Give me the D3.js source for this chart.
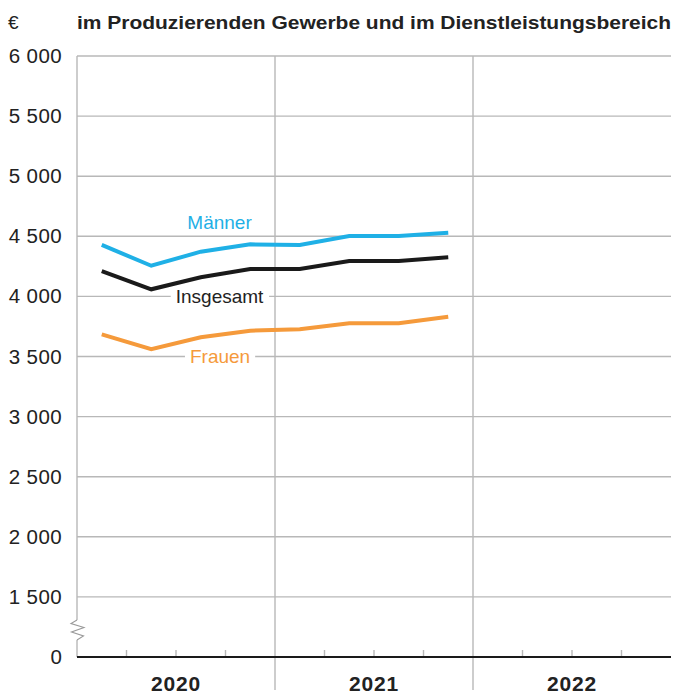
<!DOCTYPE html>
<html><head><meta charset="utf-8">
<script src="https://cdn.jsdelivr.net/npm/d3@7"></script>
<style>
html,body{margin:0;padding:0;background:#fff;}
svg{display:block;font-family:"Liberation Sans",Arial,sans-serif;}
</style></head>
<body>
<svg id="chart" width="675" height="696"></svg>
<script>
const title = "im Produzierenden Gewerbe und im Dienstleistungsbereich";
const unit = "€";
const years = ["2020", "2021", "2022"];
const quarters = ["2020 Q1","2020 Q2","2020 Q3","2020 Q4","2021 Q1","2021 Q2","2021 Q3","2021 Q4"];
const maenner = [4428, 4255, 4372, 4433, 4428, 4502, 4502, 4530];
const insgesamt = [4211, 4059, 4159, 4228, 4228, 4295, 4295, 4325];
const frauen = [3684, 3560, 3660, 3715, 3726, 3776, 3776, 3831];
const yTicks = [1500, 2000, 2500, 3000, 3500, 4000, 4500, 5000, 5500, 6000];
const seriesNames = ["Männer", "Insgesamt", "Frauen"];

(function () {
const svg = d3.select("#chart");
const mLeft = 77, mRight = 671, mTop = 56, mBottom = 657;
const x = d3.scaleLinear().domain([0, 12]).range([mLeft, mRight]);
const y = d3.scaleLinear().domain([1000, 6000]).range([mBottom, mTop]);
const fmtLbl = v => d3.format(",")(v).replace(",", " ");

const grid = "#b8b8b8";
svg.append("g").selectAll("line").data(yTicks).join("line")
  .attr("x1", mLeft).attr("x2", mRight)
  .attr("y1", d => y(d)).attr("y2", d => y(d))
  .attr("stroke", grid).attr("stroke-width", 1.4);
svg.append("g").selectAll("line").data([4, 8]).join("line")
  .attr("x1", d => x(d)).attr("x2", d => x(d))
  .attr("y1", mTop).attr("y2", 690)
  .attr("stroke", grid).attr("stroke-width", 1.4);
const brkTop = 620, brkBot = 640;
svg.append("line").attr("x1", mLeft).attr("x2", mLeft).attr("y1", mTop).attr("y2", brkTop)
  .attr("stroke", grid).attr("stroke-width", 1.4);
svg.append("line").attr("x1", mLeft).attr("x2", mLeft).attr("y1", brkBot).attr("y2", mBottom)
  .attr("stroke", grid).attr("stroke-width", 1.4);
svg.append("path")
  .attr("d", `M${mLeft},${brkTop} L${mLeft-6},${brkTop+3.5} L${mLeft+7},${brkTop+7.5} L${mLeft-5.5},${brkTop+12} L${mLeft+6.5},${brkTop+16} L${mLeft},${brkBot}`)
  .attr("fill", "none").attr("stroke", "#999").attr("stroke-width", 1.1);
const qt = d3.range(1, 12).filter(d => d % 4 !== 0);
svg.append("g").selectAll("line").data(qt).join("line")
  .attr("x1", d => x(d)).attr("x2", d => x(d))
  .attr("y1", mBottom).attr("y2", mBottom - 7)
  .attr("stroke", grid).attr("stroke-width", 1.4);
svg.append("line").attr("x1", mLeft).attr("x2", mRight).attr("y1", mBottom).attr("y2", mBottom)
  .attr("stroke", "#1a1a1a").attr("stroke-width", 2.2);

svg.append("g").selectAll("text").data(yTicks).join("text")
  .attr("x", 62).attr("y", d => y(d) + 7)
  .attr("text-anchor", "end").attr("font-size", 20.5).attr("letter-spacing", 0.4).attr("fill", "#222")
  .text(d => fmtLbl(d));
svg.append("text").attr("x", 62).attr("y", mBottom + 7).attr("text-anchor", "end")
  .attr("font-size", 20.5).attr("fill", "#222").text("0");

svg.append("g").selectAll("text").data(years).join("text")
  .attr("x", (d, i) => x(i * 4 + 2)).attr("y", 691)
  .attr("text-anchor", "middle").attr("font-size", 21).attr("font-weight", "bold")
  .attr("letter-spacing", 0.8).attr("fill", "#222").text(d => d);

svg.append("text").attr("x", 8).attr("y", 29).attr("font-size", 19).attr("fill", "#222").text(unit);
svg.append("text").attr("x", 77).attr("y", 29).attr("font-size", 19).attr("font-weight", "bold")
  .attr("fill", "#222").attr("textLength", 594).attr("lengthAdjust", "spacingAndGlyphs").text(title);

const line = d3.line().x((d, i) => x(i + 0.5)).y(d => y(d));
const series = [
  {name: seriesNames[0], vals: maenner, color: "#1fb0e6", lbl: "#1fb0e6"},
  {name: seriesNames[1], vals: insgesamt, color: "#1a1a1a", lbl: "#222"},
  {name: seriesNames[2], vals: frauen, color: "#f59a3b", lbl: "#f59a3b"}
];
svg.append("g").selectAll("path").data(series).join("path")
  .attr("d", d => line(d.vals)).attr("fill", "none")
  .attr("stroke", d => d.color).attr("stroke-width", 4).attr("stroke-linejoin", "miter");

const labelPos = [
  {s: 0, xq: 2.88, yv: 4558, bg: false},
  {s: 1, xq: 2.88, yv: 3943, bg: true},
  {s: 2, xq: 2.89, yv: 3442, bg: true}
];
const lblG = svg.append("g");
labelPos.forEach(p => {
  const s = series[p.s];
  const t = lblG.append("text").attr("x", x(p.xq)).attr("y", y(p.yv))
    .attr("text-anchor", "middle").attr("font-size", 19)
    .attr("fill", s.lbl).text(s.name);
  if (p.bg) {
    const bb = t.node().getBBox();
    lblG.insert("rect", () => t.node())
      .attr("x", bb.x - 5).attr("y", bb.y + 2).attr("width", bb.width + 10).attr("height", bb.height - 4)
      .attr("fill", "#fff");
  }
});
})();
</script>
</body></html>
